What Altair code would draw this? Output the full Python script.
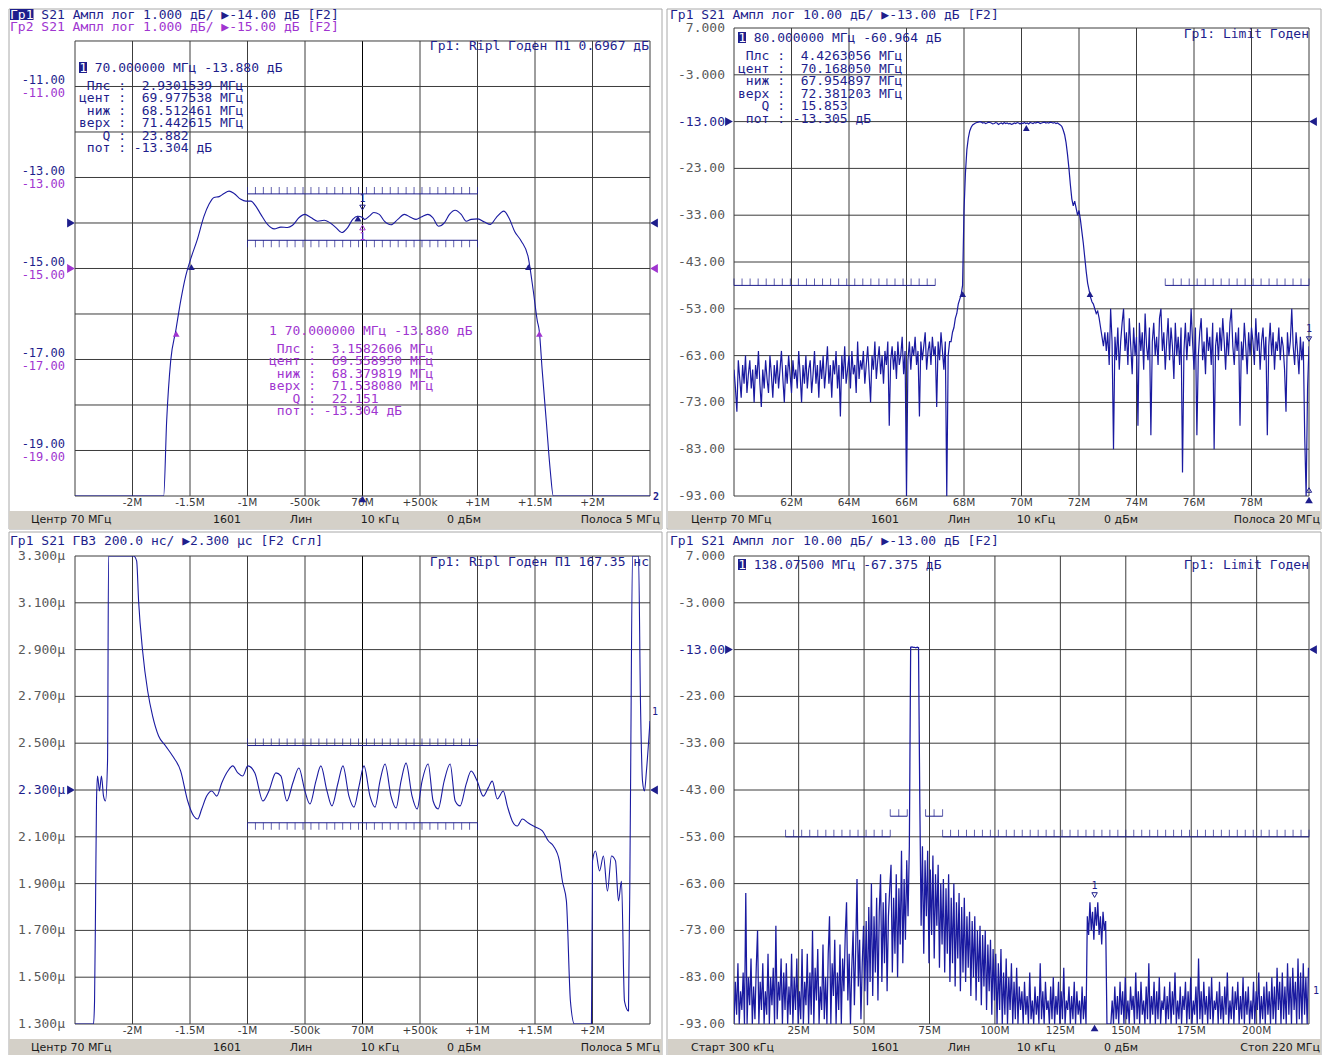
import altair as alt
import numpy as np
import pandas as pd

# ---------------- Panel 1: S21 magnitude, 1 dB/div (x = offset from 70 MHz, MHz)
P1_X = [-2.5, -1.729, -1.703, -1.668, -1.624, -1.581, -1.537, -1.494, -1.436, -1.378,
        -1.335, -1.291, -1.247, -1.204, -1.160, -1.117, -1.058, -1.015, -0.971, -0.928,
        -0.884, -0.826, -0.768, -0.710, -0.652, -0.608, -0.551, -0.501, -0.449, -0.390,
        -0.333, -0.274, -0.231, -0.181, -0.129, -0.085, -0.042, 0.0, 0.016, 0.059,
        0.098, 0.146, 0.190, 0.248, 0.307, 0.364, 0.422, 0.466, 0.510, 0.568,
        0.611, 0.660, 0.713, 0.756, 0.806, 0.858, 0.902, 0.945, 1.003, 1.061,
        1.113, 1.163, 1.230, 1.279, 1.322, 1.381, 1.439, 1.450, 1.485, 1.520,
        1.537, 1.563, 1.598, 1.633, 1.659, 2.5]
P1_Y = [-20.0, -20.0, -18.35, -17.03, -16.37, -15.71, -15.16, -14.79, -14.36, -13.85,
        -13.59, -13.44, -13.42, -13.35, -13.30, -13.35, -13.48, -13.52, -13.52, -13.63,
        -13.81, -14.03, -14.13, -14.09, -14.10, -14.05, -13.88, -13.81, -13.88, -13.96,
        -13.94, -14.01, -14.10, -14.21, -14.10, -13.92, -13.85, -13.88, -13.92, -13.85,
        -13.77, -13.81, -13.96, -14.04, -13.92, -13.81, -13.88, -13.92, -13.87, -13.81,
        -13.88, -14.07, -13.99, -13.81, -13.72, -13.81, -13.96, -13.92, -13.91, -13.98,
        -14.03, -13.88, -13.74, -13.92, -14.18, -14.40, -14.73, -14.88, -15.49, -16.15,
        -16.37, -17.25, -18.35, -19.45, -20.0, -20.0]
OFF_TICKS = [-2, -1.5, -1, -0.5, 0, 0.5, 1, 1.5, 2]
OFF_LABELS = ["-2M", "-1.5M", "-1M", "-500k", "70M", "+500k", "+1M", "+1.5M", "+2M"]
P1_YT = [-11, -13, -15, -17, -19]
P1_YL = ["-11.00", "-13.00", "-15.00", "-17.00", "-19.00"]
P1_LIM = [(-1.0, 1.0, -13.36, True), (-1.0, 1.0, -14.38, False)]
P1_BW1 = ([-1.4875, 1.4426], [-14.88, -14.88])
P1_BW2 = ([-1.620, 1.538], [-16.35, -16.35])
P1_MK = (0.0, -13.88)

# ---------------- Panel 2: S21 magnitude 10 dB/div, 60..80 MHz, 401 sweep points
P2_START, P2_STOP, P2_N = 60.0, 80.0, 401
P2_V = [
    -66, -70, -75, -64, -68, -72, -65, -69, -63, -71,
    -67, -64, -70, -66, -73, -65, -68, -62, -69, -74,
    -66, -70, -64, -68, -71, -63, -67, -72, -65, -69,
    -64, -70, -66, -62, -68, -73, -65, -69, -63, -67,
    -71, -64, -68, -66, -70, -62, -67, -73, -65, -69,
    -63, -70, -66, -64, -71, -67, -62, -69, -65, -72,
    -64, -68, -63, -70, -66, -61, -69, -65, -72, -64,
    -67, -62, -70, -65, -76, -63, -68, -61, -69, -66,
    -63, -70, -62, -67, -65, -71, -60, -68, -64, -66,
    -62, -69, -65, -61, -67, -73, -63, -66, -60, -68,
    -64, -61, -67, -63, -69, -62, -65, -60, -78, -64,
    -61, -66, -62, -68, -60, -65, -63, -59, -67, -62,
    -93, -64, -60, -66, -61, -63, -59, -65, -62, -76,
    -60, -64, -61, -58, -66, -62, -60, -65, -59, -63,
    -61, -74, -60, -64, -58, -62, -66, -60, -93, -63,
    -60,
    -60, -58, -57, -55, -54, -52, -51, -50, -48, -32,
    -24, -19, -16.5, -15, -14.2, -13.7, -13.5, -13.3,
    -13.2, -13.1, -13.0, -13.1, -13.3, -13.2, -13.4, -13.3, -13.1, -13.2,
    -13.3, -13.5, -13.4, -13.2, -13.3, -13.6, -13.4, -13.3, -13.5, -13.2,
    -13.4, -13.3, -13.5, -13.4, -13.6, -13.5, -13.3, -13.4, -13.2, -13.3,
    -13.5, -13.3, -13.4, -13.2, -13.4, -13.3, -13.5, -13.2, -13.3, -13.4,
    -13.2, -13.3, -13.1, -13.2, -13.4, -13.3, -13.2, -13.1, -13.3, -13.2,
    -13.3, -13.1, -13.2, -13.3, -13.2, -13.4, -13.3, -13.5, -13.7, -14.0,
    -14.8, -15.8, -17.5, -20, -23, -26.5, -29.5, -31, -30, -31.5,
    -33, -32, -34, -36.5, -39, -42, -45, -47.5, -49, -50.5,
    -51.5, -52, -53, -54, -53.5, -55, -57, -59, -61, -58,
    -62, -58, -65, -53, -60, -83, -59, -64, -57, -66,
    -60, -56, -53, -62, -58, -65, -55, -61, -67, -57,
    -63, -59, -78, -56, -62, -58, -66, -54, -61, -64,
    -57, -80, -60, -56, -63, -59, -65, -55, -53, -62,
    -58, -66, -60, -55, -64, -57, -61, -68, -56, -63,
    -59, -65, -57, -88, -62, -56, -64, -58, -61, -53,
    -60, -66, -57, -80, -63, -58, -55, -64, -60, -67,
    -57, -62, -59, -65, -56, -83, -61, -58, -64, -57,
    -62, -55, -60, -66, -58, -63, -56, -53, -61, -65,
    -58, -62, -57, -78, -60, -64, -56, -61, -67, -58,
    -63, -57, -60, -65, -55, -62, -58, -66, -60, -57,
    -64, -59, -80, -61, -56, -63, -58, -66, -60, -62,
    -57, -64, -59, -61, -66, -75, -58, -63, -60, -53,
    -61, -65, -58, -62, -67, -59, -64, -60, -80, -93,
    -70, -61]
MAG_YT = [7, -3, -13, -23, -33, -43, -53, -63, -73, -83, -93]
MAG_YL = ["7.000", "-3.000", "-13.00", "-23.00", "-33.00", "-43.00", "-53.00",
          "-63.00", "-73.00", "-83.00", "-93.00"]
P2_XT = [62, 64, 66, 68, 70, 72, 74, 76, 78]
P2_XL = ["62M", "64M", "66M", "68M", "70M", "72M", "74M", "76M", "78M"]
P2_LIM = [(60.0, 67.0, -48.0, True, 26), (75.0, 80.0, -48.0, True, 19)]
P2_BW = ([67.954897, 72.381203], [-49.0, -49.0])
P2_CENT = (70.16805, -13.3)
P2_MK = (80.0, -60.964)

# ---------------- Panel 3: group delay, 200 ns/div (x = offset from 70 MHz)
P3_X = [-2.5, -2.339, -2.33, -2.321, -2.313, -2.304, -2.287, -2.27, -2.252, -2.235,
        -2.217, -2.208, -1.99, -1.964, -1.947, -1.912, -1.868, -1.825, -1.773, -1.712,
        -1.651, -1.581, -1.52, -1.468, -1.433, -1.398, -1.355, -1.311, -1.267, -1.224,
        -1.171, -1.128, -1.084, -1.041, -0.997, -0.936, -0.866, -0.814, -0.753, -0.71,
        -0.658, -0.606, -0.553, -0.501, -0.457, -0.405, -0.362, -0.309, -0.266, -0.213,
        -0.17, -0.118, -0.074, -0.03, 0.013, 0.065, 0.109, 0.152, 0.196, 0.248,
        0.292, 0.335, 0.379, 0.431, 0.475, 0.518, 0.571, 0.614, 0.658, 0.71,
        0.762, 0.806, 0.849, 0.902, 0.945, 0.997, 1.05, 1.093, 1.128, 1.172,
        1.224, 1.259, 1.302, 1.346, 1.39, 1.442, 1.503, 1.564, 1.617, 1.66,
        1.712, 1.738, 1.773, 1.808, 1.843, 1.991, 2.0, 2.026, 2.061, 2.095,
        2.13, 2.165, 2.2, 2.226, 2.252, 2.278, 2.313, 2.33, 2.348, 2.4,
        2.417, 2.435, 2.452, 2.469, 2.5]
P3_Y = [1.3, 1.3, 1.398, 1.826, 2.253, 2.36, 2.296, 2.36, 2.274, 2.253,
        2.424, 3.3, 3.3, 3.279, 3.108, 2.894, 2.723, 2.616, 2.531, 2.488,
        2.445, 2.381, 2.253, 2.189, 2.176, 2.219, 2.274, 2.296, 2.274, 2.33,
        2.381, 2.403, 2.373, 2.36, 2.403, 2.373, 2.253, 2.296, 2.373, 2.36,
        2.253, 2.33, 2.394, 2.296, 2.24, 2.338, 2.403, 2.296, 2.232, 2.33,
        2.403, 2.274, 2.227, 2.317, 2.403, 2.274, 2.227, 2.338, 2.411, 2.274,
        2.223, 2.338, 2.415, 2.274, 2.219, 2.338, 2.411, 2.253, 2.219, 2.338,
        2.411, 2.253, 2.232, 2.326, 2.381, 2.338, 2.274, 2.309, 2.338, 2.262,
        2.296, 2.232, 2.168, 2.146, 2.176, 2.159, 2.142, 2.125, 2.082, 2.061,
        1.997, 1.911, 1.826, 1.398, 1.3, 1.3, 1.997, 2.039, 1.954, 2.018,
        1.868, 2.018, 1.997, 1.826, 1.911, 1.398, 1.356, 2.253, 3.3, 3.3,
        2.68, 2.338, 2.296, 2.381, 2.595]
P3_YT = [3.3, 3.1, 2.9, 2.7, 2.5, 2.3, 2.1, 1.9, 1.7, 1.5, 1.3]
P3_YL = ["3.300μ", "3.100μ", "2.900μ", "2.700μ", "2.500μ", "2.300μ", "2.100μ",
         "1.900μ", "1.700μ", "1.500μ", "1.300μ"]
P3_LIM = [(-1.0, 1.0, 2.49, True), (-1.0, 1.0, 2.16, False)]

# ---------------- Panel 4: S21 magnitude, 0.3..220 MHz (440 points every 0.5 MHz)
P4_START, P4_STEP = 0.3, 0.5
P4_V = [
    -93, -84, -91, -80, -93, -86, -90, -82, -93, -65,
    -93, -83, -89, -79, -93, -85, -92, -81, -73, -93,
    -84, -90, -80, -93, -86, -91, -78, -93, -83, -89,
    -81, -93, -72, -92, -84, -88, -79, -93, -82, -90,
    -80, -93, -85, -91, -78, -93, -83, -90, -79, -93,
    -86, -92, -77, -93, -84, -89, -78, -93, -82, -91,
    -73, -93, -81, -88, -77, -93, -85, -90, -76, -92,
    -83, -93, -78, -70, -93, -80, -87, -75, -93, -82,
    -90, -76, -93, -79, -86, -74, -67, -88, -78, -93,
    -81, -73, -89, -77, -62, -85, -75, -92, -80, -72,
    -86, -71, -89, -68, -84, -63, -87, -70, -82, -66,
    -88, -69, -61, -84, -67, -80, -65, -86, -70, -64,
    -59, -82, -66, -78, -61, -83, -64, -76, -56, -80,
    -62, -75, -58, -70, -55,
    -12.5, -12.4, -12.5, -12.5, -12.6, -12.5, -12.6,
    -46, -72, -55, -78, -58, -70, -56, -80, -60, -74,
    -57, -79, -61, -72, -59, -81, -63, -76,
    -62, -82, -64, -78, -61, -84, -66, -80, -63, -85,
    -67, -79, -65, -86, -68, -82, -66, -84, -70, -81,
    -69, -87, -71, -83, -70, -88, -73, -84, -72, -89,
    -74, -85, -73, -90, -76, -86, -75, -91, -77, -88,
    -78, -93, -80, -90, -77, -93, -82, -91, -79, -93,
    -83, -90, -80, -93, -84, -92, -81, -93, -85, -90,
    -86, -93, -84, -91, -87, -93, -82, -92, -88, -93,
    -85, -91, -87, -93, -80, -92, -86, -93, -84, -90,
    -88, -93, -85, -92, -83, -93, -87, -91, -84, -93,
    -86, -92, -81, -93, -88, -90, -85, -93, -87, -92,
    -84, -93, -86, -91, -88, -93, -85, -92, -87, -93,
    -70, -74, -67, -73, -69, -75, -68, -72, -67, -74,
    -70, -76, -69, -73, -71,
    -93, -93, -93, -93,
    -88, -93, -85, -92, -87, -93, -84, -91, -86, -93,
    -83, -92, -88, -93, -85, -90, -87, -93, -82, -92,
    -86, -93, -84, -91, -88, -93, -85, -92, -80, -93,
    -87, -91, -84, -93, -86, -92, -83, -93, -88, -90,
    -85, -93, -87, -92, -84, -93, -86, -91, -82, -93,
    -88, -92, -85, -93, -87, -90, -84, -93, -86, -92,
    -83, -93, -88, -91, -85, -93, -79, -92, -86, -93,
    -84, -91, -87, -93, -85, -92, -83, -93, -88, -90,
    -86, -93, -84, -92, -87, -93, -85, -91, -82, -93,
    -88, -92, -85, -93, -86, -90, -84, -93, -87, -92,
    -83, -93, -86, -91, -85, -93, -88, -92, -84, -93,
    -86, -90, -82, -93, -87, -92, -85, -93, -84, -91,
    -86, -93, -83, -92, -85, -93, -81, -90, -84, -93,
    -82, -92, -85, -93, -80, -91, -83, -93, -81, -90,
    -84, -93, -79, -92, -82, -93, -80, -91, -83, -93,
    -81]
P4_XT = [25, 50, 75, 100, 125, 150, 175, 200]
P4_XL = ["25M", "50M", "75M", "100M", "125M", "150M", "175M", "200M"]
P4_LIM = [(20.0, 60.0, -53.0, True, 14), (60.0, 66.5, -48.6, True, 3),
          (73.5, 80.0, -48.6, True, 3), (80.0, 220.0, -53.0, True, 47)]
P4_MK = (138.075, -67.375)

# ---------------- marker readouts (label, value)
RD1 = [("Плс :", "2.9301539 МГц"), ("цент :", "69.977538 МГц"), ("ниж :", "68.512461 МГц"),
       ("верх :", "71.442615 МГц"), ("Q :", "23.882"), ("пот :", "-13.304 дБ")]
RD1B = [("Плс :", "3.1582606 МГц"), ("цент :", "69.558950 МГц"), ("ниж :", "68.379819 МГц"),
        ("верх :", "71.538080 МГц"), ("Q :", "22.151"), ("пот :", "-13.304 дБ")]
RD2 = [("Плс :", "4.4263056 МГц"), ("цент :", "70.168050 МГц"), ("ниж :", "67.954897 МГц"),
       ("верх :", "72.381203 МГц"), ("Q :", "15.853"), ("пот :", "-13.305 дБ")]

# ---------------- styling
MONO = "DejaVu Sans Mono"
SANS = "DejaVu Sans"
NAVY = "#1e1e8c"
TRACE = "#1a1aa0"
PURPLE = "#a035d0"
GRID = "#3c3c3c"
LBL = "#5a5a5a"
BAR = "#d4d0c8"
CW = 7.83
W, H = 575, 468
ONE = pd.DataFrame({"a": [0]})


def nb(s):
    return s.replace(" ", "\u00a0")


class Panel:
    def __init__(self, xd, yd):
        self.xs = alt.Scale(domain=list(xd), nice=False, zero=False)
        self.ys = alt.Scale(domain=list(yd), nice=False, zero=False)
        self.L = []

    def X(self, f="x"):
        return alt.X(f"{f}:Q", scale=self.xs, axis=None)

    def Y(self, f="y"):
        return alt.Y(f"{f}:Q", scale=self.ys, axis=None)

    def add(self, c):
        self.L.append(c)

    def box_px(self, x0, x1, y0, y1, **mk):
        self.add(alt.Chart(ONE).mark_rect(**mk).encode(
            x=alt.value(x0), x2=alt.value(x1), y=alt.value(y0), y2=alt.value(y1)))

    def text_px(self, s, px, py, color=NAVY, size=13, align="left", font=MONO, **mk):
        self.add(alt.Chart(ONE).mark_text(text=nb(s), color=color, fontSize=size, align=align,
                                          baseline="middle", font=font, **mk).encode(
            x=alt.value(px), y=alt.value(py)))

    def text_at(self, s, x, y, dy, color=NAVY, size=11):
        d = pd.DataFrame({"x": [x], "y": [y]})
        self.add(alt.Chart(d).mark_text(text=s, color=color, fontSize=size, font=MONO,
                                        baseline="middle", dy=dy).encode(x=self.X(), y=self.Y()))

    def frame(self, x0, x1, y0, y1):
        d = pd.DataFrame({"x": [x0], "x2": [x1], "y": [y0], "y2": [y1]})
        self.add(alt.Chart(d).mark_rect(fillOpacity=0, stroke=GRID, strokeWidth=1).encode(
            x=self.X(), x2=alt.X2("x2"), y=self.Y(), y2=alt.Y2("y2")))

    def vrules(self, xs, y0, y1, color=GRID, width=1):
        d = pd.DataFrame({"x": xs, "y": [y0] * len(xs), "y2": [y1] * len(xs)})
        self.add(alt.Chart(d).mark_rule(color=color, strokeWidth=width).encode(
            x=self.X(), y=self.Y(), y2=alt.Y2("y2")))

    def hrules(self, ys, x0, x1, color=GRID, width=1):
        d = pd.DataFrame({"y": ys, "x": [x0] * len(ys), "x2": [x1] * len(ys)})
        self.add(alt.Chart(d).mark_rule(color=color, strokeWidth=width).encode(
            y=self.Y(), x=self.X(), x2=alt.X2("x2")))

    def line(self, xs, ys, color=TRACE, width=1.1, interp="linear"):
        d = pd.DataFrame({"x": list(xs), "y": list(ys), "i": list(range(len(xs)))})
        self.add(alt.Chart(d).mark_line(color=color, strokeWidth=width, clip=True,
                                        interpolate=interp).encode(
            x=self.X(), y=self.Y(), order=alt.Order("i:Q")))

    def limit(self, x0, x1, yv, up, n):
        self.hrules([yv], x0, x1, color=NAVY)
        tx = list(np.linspace(x0, x1, n))
        d = pd.DataFrame({"x": tx, "y": [yv] * n})
        self.add(alt.Chart(d).mark_tick(orient="vertical", size=7, thickness=1, color=NAVY,
                                        yOffset=-3.5 if up else 3.5).encode(x=self.X(), y=self.Y()))

    def pts(self, xs, ys, shape, color=NAVY, size=40, filled=True, dy=0):
        d = pd.DataFrame({"x": xs, "y": ys})
        self.add(alt.Chart(d).mark_point(shape=shape, filled=filled, size=size, color=color,
                                         opacity=1, strokeWidth=1, yOffset=dy).encode(
            x=self.X(), y=self.Y()))

    def pts_xpx(self, px, ys, shape, color=NAVY, size=80):
        d = pd.DataFrame({"y": ys})
        self.add(alt.Chart(d).mark_point(shape=shape, filled=True, size=size, color=color,
                                         opacity=1).encode(x=alt.value(px), y=self.Y()))

    def pts_ypx(self, xs, py, shape, color=NAVY, size=60, filled=True):
        d = pd.DataFrame({"x": xs})
        self.add(alt.Chart(d).mark_point(shape=shape, filled=filled, size=size, color=color,
                                         opacity=1, strokeWidth=1).encode(x=self.X(), y=alt.value(py)))

    def ylabels(self, vals, labels, colors, px, dy=0, size=13):
        d = pd.DataFrame({"y": vals, "t": [nb(s) for s in labels], "c": colors})
        self.add(alt.Chart(d).mark_text(font=MONO, fontSize=size, align="right", baseline="middle",
                                        dy=dy).encode(
            x=alt.value(px), y=self.Y(), text="t:N", color=alt.Color("c:N", scale=None)))

    def xlabels(self, vals, labels, py):
        d = pd.DataFrame({"x": vals, "t": labels})
        self.add(alt.Chart(d).mark_text(font=SANS, fontSize=10.5, color="#3a3a3a",
                                        baseline="middle").encode(
            x=self.X(), y=alt.value(py), text="t:N"))

    def status(self, items, top=483, bottom=501, left=-66, right=587):
        self.box_px(left, right, top, bottom, color=BAR)
        for s, px, al in items:
            self.text_px(s, px, (top + bottom) / 2, color="#1a1a1a", size=11, align=al, font=SANS)

    def readout(self, head, lines, px, py0, py1, step, color=NAVY, boxed=True):
        if boxed:
            self.box_px(px, px + 8, py0 - 6, py0 + 5, color=color)
            self.text_px("1", px + 0.3, py0, color="white")
        else:
            self.text_px("1", px, py0, color=color)
        self.text_px(head, px + 2 * CW, py0, color=color)
        for k, (lab, val) in enumerate(lines):
            y = py1 + k * step
            self.text_px(lab, px + 6 * CW, y, color=color, align="right")
            self.text_px(val, px + (7 if val.startswith("-") else 8) * CW, y, color=color)

    def chart(self):
        return alt.layer(*self.L).properties(width=W, height=H)


STATUS_5 = [("Центр 70 МГц", -44, "left"), ("1601", 152, "center"), ("Лин", 226, "center"),
            ("10 кГц", 305, "center"), ("0 дБм", 389, "center"), ("Полоса 5 МГц", 585, "right")]

# ================= Panel 1
p1 = Panel((-2.5, 2.5), (-20.0, -9.7143))
p1.box_px(-66, 587, -19, 501, fillOpacity=0, stroke="#a8a8a8", strokeWidth=1)
p1.status(STATUS_5)
p1.vrules([v for v in OFF_TICKS if v != 0], -20, -10)
p1.vrules([0], -20, -10, color="#000000")
p1.hrules([-19, -18, -17, -16, -15, -14, -13, -12, -11], -2.5, 2.5)
p1.frame(-2.5, 2.5, -20, -10)
for a, b, v, up in P1_LIM:
    p1.limit(a, b, v, up, 30)
p1.line(P1_X, P1_Y, interp="monotone")
p1.pts(P1_BW1[0], P1_BW1[1], "triangle-up", NAVY, 45, dy=4)
p1.pts(P1_BW2[0], P1_BW2[1], "triangle-up", PURPLE, 45, dy=4)
p1.pts([P1_MK[0] - 0.04], [P1_MK[1]], "triangle-up", NAVY, 50, dy=1)
p1.pts([P1_MK[0]], [P1_MK[1]], "triangle-down", NAVY, 30, filled=False, dy=-10)
p1.text_at("1", P1_MK[0], P1_MK[1], -19, NAVY, 10)
p1.pts([P1_MK[0]], [P1_MK[1]], "triangle-up", PURPLE, 30, filled=False, dy=10)
p1.text_at("1", P1_MK[0], P1_MK[1], 19, PURPLE, 10)
p1.ylabels(P1_YT, P1_YL, [NAVY] * 5, -10, dy=-6.5, size=12)
p1.ylabels(P1_YT, P1_YL, [PURPLE] * 5, -10, dy=6.5, size=12)
p1.pts_xpx(-4, [-14.0], "triangle-right", NAVY)
p1.pts_xpx(-4, [-15.0], "triangle-right", PURPLE)
p1.pts_xpx(579, [-14.0], "triangle-left", NAVY)
p1.pts_xpx(579, [-15.0], "triangle-left", PURPLE)
p1.xlabels(OFF_TICKS, OFF_LABELS, 475)
p1.pts_ypx([0.0], 471, "triangle-up", NAVY)
p1.text_px("2", 578, 469, color=NAVY, size=10, fontWeight="bold")
p1.box_px(-65, -41.5, -19, -8, color=NAVY)
p1.text_px("Гр1", -65, -13.5, color="white")
p1.text_px("S21 Ампл лог 1.000 дБ/ ▶-14.00 дБ [F2]", -65 + 4 * CW, -13.5, color=NAVY)
p1.text_px("Гр2 S21 Ампл лог 1.000 дБ/ ▶-15.00 дБ [F2]", -65, -1, color=PURPLE)
p1.text_px("Гр1: Ripl Годен П1 0.6967 дБ", 574, 18, align="right")
p1.readout("70.000000 МГц -13.880 дБ", RD1, 4, 40, 58, 12.4)
p1.readout("70.000000 МГц -13.880 дБ", RD1B, 194, 303, 321, 12.4, color=PURPLE, boxed=False)

# ================= Panel 2
p2 = Panel((60.0, 80.0), (-93.0, 7.0))
p2.box_px(-67, 587, -19, 501, fillOpacity=0, stroke="#a8a8a8", strokeWidth=1)
p2.status([("Центр 70 МГц", -43, "left"), ("1601", 151, "center"), ("Лин", 225, "center"),
           ("10 кГц", 302, "center"), ("0 дБм", 387, "center"), ("Полоса 20 МГц", 586, "right")])
p2.vrules(P2_XT, -93, 7)
p2.hrules(MAG_YT[1:-1], 60, 80)
p2.frame(60, 80, -93, 7)
for a, b, v, up, n in P2_LIM:
    p2.limit(a, b, v, up, n)
p2.line(list(np.linspace(P2_START, P2_STOP, P2_N)), P2_V, width=1.2)
p2.pts(P2_BW[0], P2_BW[1], "triangle-up", NAVY, 45, dy=4)
p2.pts([P2_CENT[0]], [P2_CENT[1]], "triangle-up", NAVY, 45, dy=5)
p2.pts([P2_MK[0]], [P2_MK[1]], "triangle-down", NAVY, 28, filled=False, dy=-7)
p2.text_at("1", P2_MK[0], P2_MK[1], -17, NAVY, 10)
p2.ylabels(MAG_YT, MAG_YL, [NAVY if v == -13 else LBL for v in MAG_YT], -9)
p2.pts_xpx(-5, [-13.0], "triangle-right", NAVY)
p2.pts_xpx(579, [-13.0], "triangle-left", NAVY)
p2.xlabels(P2_XT, P2_XL, 475)
p2.pts_ypx([80.0], 462, "triangle-up", NAVY, 28, filled=False)
p2.pts_ypx([80.0], 472, "triangle-up", NAVY)
p2.text_px("Гр1 S21 Ампл лог 10.00 дБ/ ▶-13.00 дБ [F2]", -64, -13.5, color=NAVY)
p2.text_px("Гр1: Limit Годен", 575, 6, align="right")
p2.readout("80.000000 МГц -60.964 дБ", RD2, 4, 10, 28, 12.5)

# ================= Panel 3
p3 = Panel((-2.5, 2.5), (1.3, 3.3))
p3.box_px(-66, 587, -24, 501, fillOpacity=0, stroke="#a8a8a8", strokeWidth=1)
p3.status(STATUS_5)
p3.vrules([v for v in OFF_TICKS if v != 0], 1.3, 3.3)
p3.vrules([0], 1.3, 3.3, color="#000000")
p3.hrules(P3_YT[1:-1], -2.5, 2.5)
p3.frame(-2.5, 2.5, 1.3, 3.3)
for a, b, v, up in P3_LIM:
    p3.limit(a, b, v, up, 30)
p3.line(P3_X, P3_Y, interp="monotone")
p3.ylabels(P3_YT, P3_YL, [NAVY if v == 2.3 else LBL for v in P3_YT], -10)
p3.pts_xpx(-4, [2.3], "triangle-right", NAVY)
p3.pts_xpx(579, [2.3], "triangle-left", NAVY)
p3.xlabels(OFF_TICKS, OFF_LABELS, 475)
p3.text_px("1", 577, 156, color=NAVY, size=10)
p3.text_px("Гр1 S21 ГВЗ 200.0 нс/ ▶2.300 μс [F2 Сгл]", -65, -15, color=NAVY)
p3.text_px("Гр1: Ripl Годен П1 167.35 нс", 574, 6, align="right")

# ================= Panel 4
p4 = Panel((0.3, 220.0), (-93.0, 7.0))
p4.box_px(-67, 587, -24, 501, fillOpacity=0, stroke="#a8a8a8", strokeWidth=1)
p4.status([("Старт 300 кГц", -43, "left"), ("1601", 151, "center"), ("Лин", 225, "center"),
           ("10 кГц", 302, "center"), ("0 дБм", 387, "center"), ("Стоп 220 МГц", 586, "right")])
p4.vrules(P4_XT, -93, 7)
p4.hrules(MAG_YT[1:-1], 0.3, 220)
p4.frame(0.3, 220, -93, 7)
for a, b, v, up, n in P4_LIM:
    p4.limit(a, b, v, up, n)
p4.line([P4_START + P4_STEP * k for k in range(len(P4_V))], P4_V, width=1.25)
p4.pts([P4_MK[0]], [P4_MK[1]], "triangle-down", NAVY, 30, filled=False, dy=-9)
p4.text_at("1", P4_MK[0], P4_MK[1], -18, NAVY, 10)
p4.ylabels(MAG_YT, MAG_YL, [NAVY if v == -13 else LBL for v in MAG_YT], -9)
p4.pts_xpx(-5, [-13.0], "triangle-right", NAVY)
p4.pts_xpx(579, [-13.0], "triangle-left", NAVY)
p4.xlabels(P4_XT, P4_XL, 475)
p4.pts_ypx([P4_MK[0]], 472, "triangle-up", NAVY)
p4.text_px("1", 579, 435, color=NAVY, size=10)
p4.text_px("Гр1 S21 Ампл лог 10.00 дБ/ ▶-13.00 дБ [F2]", -64, -15, color=NAVY)
p4.text_px("Гр1: Limit Годен", 575, 9, align="right")
p4.readout("138.07500 МГц -67.375 дБ", [], 4, 9, 0, 12.5)

chart = alt.concat(p1.chart(), p2.chart(), p3.chart(), p4.chart(), columns=2,
                   spacing={"row": 60, "column": 84}, bounds="flush").properties(
    padding=0, background="white").configure_view(stroke=None)

chart.save("out.html", embed_options={"renderer": "svg", "actions": False})
